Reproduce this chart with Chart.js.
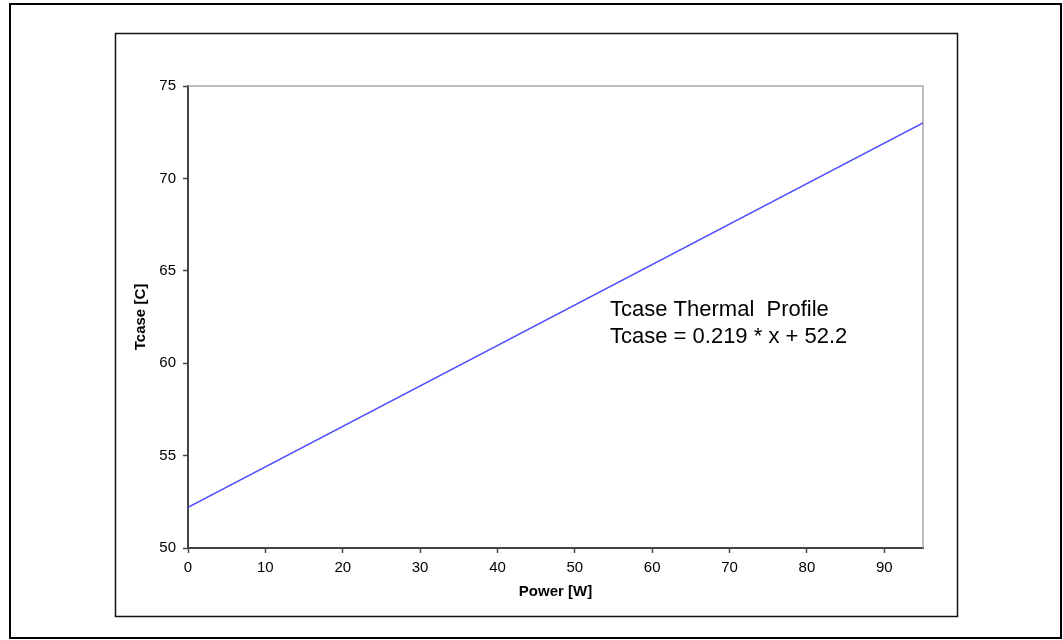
<!DOCTYPE html>
<html>
<head>
<meta charset="utf-8">
<script src="https://cdn.jsdelivr.net/npm/chart.js@4/dist/chart.umd.min.js"></script>
<style>
  html, body { margin: 0; padding: 0; background: #fff; }
  #wrap { width: 1063px; height: 640px; }
</style>
</head>
<body>
<div id="wrap"><canvas id="chart" width="1063" height="640"></canvas></div>
<script>
// values
const powerW = [0, 95];
const tcaseC = [52.2, 73.0];
const xTicks = [0, 10, 20, 30, 40, 50, 60, 70, 80, 90];
const yTicks = [50, 55, 60, 65, 70, 75];
const noteLines = ['Tcase Thermal  Profile', 'Tcase = 0.219 * x + 52.2'];

const FONT = "'Liberation Sans', Arial, sans-serif";

const frames = {
  id: 'frames',
  beforeDraw(chart) {
    const c = chart.ctx;
    c.save();
    c.fillStyle = '#fff';
    c.fillRect(0, 0, chart.width, chart.height);
    c.strokeStyle = '#000';
    c.lineWidth = 2;
    c.strokeRect(10, 4, 1051, 634);
    c.lineWidth = 1.5;
    c.strokeStyle = '#111';
    c.strokeRect(115.5, 33.5, 842, 583);
    c.restore();
  },
  beforeDatasetsDraw(chart) {
    const a = chart.chartArea;
    const c = chart.ctx;
    c.save();
    c.strokeStyle = '#a6a6a6';
    c.lineWidth = 1.5;
    c.beginPath();
    c.moveTo(a.left, a.top);
    c.lineTo(a.right, a.top);
    c.lineTo(a.right, a.bottom);
    c.stroke();
    c.restore();
  },
  afterDraw(chart) {
    const a = chart.chartArea;
    const c = chart.ctx;
    c.save();
    c.fillStyle = '#000';
    c.font = '22px ' + FONT;
    c.textBaseline = 'alphabetic';
    noteLines.forEach((t, i) => c.fillText(t, a.left + 422, a.top + 230 + i * 27));
    c.restore();
  }
};

new Chart(document.getElementById('chart'), {
  type: 'scatter',
  data: {
    datasets: [{
      label: 'Tcase',
      data: powerW.map((x, i) => ({ x, y: tcaseC[i] })),
      showLine: true,
      borderColor: '#4c4cff',
      borderWidth: 1.5,
      pointRadius: 0,
      fill: false
    }]
  },
  options: {
    responsive: false,
    animation: false,
    layout: { padding: { left: 120, top: 86, right: 140, bottom: 32 } },
    plugins: {
      legend: { display: false },
      tooltip: { enabled: false }
    },
    scales: {
      x: {
        type: 'linear',
        min: 0,
        max: 95,
        afterFit: s => { s.height = 60; },
        afterBuildTicks: s => { s.ticks = xTicks.map(v => ({ value: v })); },
        ticks: { color: '#000', font: { family: FONT, size: 15 }, padding: 6, maxRotation: 0 },
        grid: { drawOnChartArea: false, tickLength: 5, tickWidth: 1.5, color: '#444' },
        border: { color: '#444', width: 2 },
        title: {
          display: true,
          text: 'Power [W]',
          color: '#000',
          font: { family: FONT, size: 15, weight: 'bold' },
          padding: { top: 0, bottom: 7 }
        }
      },
      y: {
        min: 50,
        max: 75,
        afterFit: s => { s.width = 68; },
        afterBuildTicks: s => { s.ticks = yTicks.map(v => ({ value: v })); },
        ticks: { color: '#000', font: { family: FONT, size: 15 }, padding: 7 },
        grid: { drawOnChartArea: false, tickLength: 5, tickWidth: 1.5, color: '#444' },
        border: { color: '#444', width: 2 },
        title: {
          display: true,
          text: 'Tcase [C]',
          color: '#000',
          font: { family: FONT, size: 15, weight: 'bold' },
          padding: { top: 12, bottom: 0 }
        }
      }
    }
  },
  plugins: [frames]
});
</script>
</body>
</html>
